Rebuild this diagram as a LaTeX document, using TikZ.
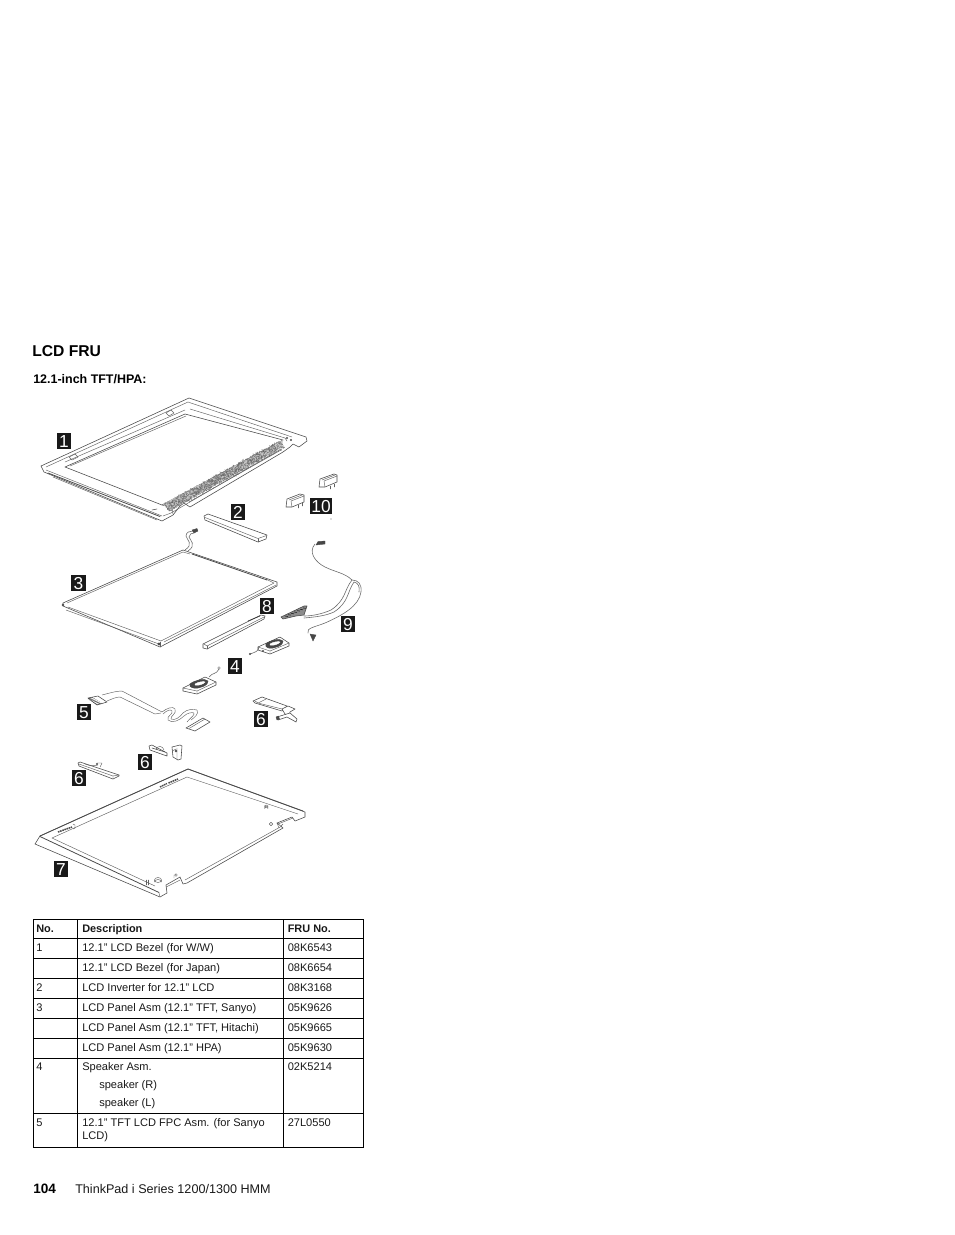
\documentclass[tikz,border=0pt]{standalone}
\usepackage{fontspec}
\setmainfont{Liberation Sans}
\tikzset{
  part/.style={draw=black!72,line width=0.42pt,line join=round,fill=white},
  ln/.style={draw=black!62,line width=0.34pt,line join=round,line cap=round},
  heavy/.style={draw=black!70,line width=0.6pt,line join=round,line cap=round},
  wire/.style={draw=black!58,line width=0.45pt,line cap=round},
  dark/.style={fill=black!72,draw=black!72,line width=0.25pt},
  chip/.style={draw=black!70,line width=1.15pt,dash pattern=on 1.2pt off 0.5pt},
  callout/.style={fill=black!90,text=white,font=\fontsize{13}{14}\selectfont,inner sep=0pt,minimum height=11.4pt,minimum width=11.2pt,text height=9.4pt,text depth=0pt,anchor=center},
  cell/.style={anchor=base west,inner sep=0pt,font=\fontsize{8.3}{9}\selectfont,text=black!90},
  hcell/.style={cell,font=\fontsize{8.2}{9}\selectfont\bfseries},
  rule/.style={draw=black,line width=0.75pt,line cap=rect}
}
\begin{document}
\begin{tikzpicture}[x=0.75pt,y=-0.75pt]
\useasboundingbox (0,0) rectangle (954,1235);
% headings
\node[anchor=base west,inner sep=0pt,font=\fontsize{11.75}{13}\selectfont\bfseries] (title) at (32,356) {LCD FRU};
\node[anchor=base west,inner sep=0pt,font=\fontsize{9.35}{10}\selectfont\bfseries] (sub) at (33,383) {12.1-inch TFT/HPA:};
% ---------- 1 bezel
\draw[part] (189,398) -- (306,437) -- (307,441) -- (299,447) -- (293,444) -- (290,447) -- (283,452) -- (190,507) -- (184,503) -- (180,506) -- (173,515) -- (162,521) -- (44,472) -- (41,466) -- cycle;
\draw[part] (185,414) -- (283,440) -- (162,505) -- (65,467) -- cycle;
\draw[ln] (188,402) -- (292,437) (190,409) -- (285,438) -- (287,441);
\draw[ln] (65,462) -- (185,410) (70,466) -- (186,416);
\draw[ln] (46,467) -- (188,402);
\draw[heavy] (48,473) -- (160,516.5);
\draw[ln] (46,470) -- (162,516) (53,477) -- (157,520);
\draw[ln] (163,516) -- (171,513) (189,502) -- (281,450) (173,514)--(172,508)--(162,505);
\draw[ln] (171,513) -- (281,449);
\draw[ln] (69,457) -- (75,454) -- (78,457) -- (72,460) -- cycle;
\draw[ln] (166,413) -- (171,410) -- (174,413) -- (169,416) -- cycle;
\fill[black!70] (287,438) circle (0.8pt) (291,440) circle (0.8pt);
\draw[heavy,line width=0.4pt] (152,510) -- (157,509);
% hatched band
\fill[black!22] (163,504) -- (283,440) -- (281,448) -- (170,511) -- cycle;
\pgfmathsetseed{7}
\foreach \i in {1,...,1500}{
  \pgfmathsetmacro{\t}{rnd}
  \pgfmathsetmacro{\s}{rnd}
  \pgfmathsetmacro{\px}{164+\t*116+\s*5}
  \pgfmathsetmacro{\py}{504-\t*64+\s*7.5}
  \pgfmathsetmacro{\dx}{(rnd-.5)*3}
  \pgfmathsetmacro{\dy}{(rnd-.5)*3}
  \draw[black!60,line width=0.22pt] (\px,\py) -- ++(\dx,\dy);
}
% ---------- 2 inverter
\draw[part] (204,516) -- (208,514) -- (267,535) -- (266,539) -- (258,542) -- (205,520) -- cycle;
\draw[ln] (205,517.5) -- (258,538.5) -- (266.5,535.5);
\draw[ln] (258,538.5) -- (258,542);
% ---------- 10 hinge covers
\draw[part] (287,499) -- (300,494) -- (304,495) -- (304,502) -- (292,507) -- (286,507) -- cycle;
\draw[ln] (289,500) -- (302,495) (292,507) -- (291,501) -- (304,496);
\draw[ln] (298,505) -- (298,508) (302,503) -- (302,506);
\draw[part] (320,479) -- (334,474) -- (337,475) -- (337,482) -- (325,487) -- (319,487) -- cycle;
\draw[ln] (322,480) -- (335,475) (325,487) -- (324,481) -- (337,476);
\draw[ln] (330,486) -- (330,489) (334,484) -- (334,487);
\fill[black!60] (331,519) circle (0.4pt);
% ---------- 3 panel
\draw[part] (183,550) -- (277,582) -- (277,586) -- (160,647) -- (63,606) -- (63,603) -- cycle;
\draw[ln] (67,603) -- (183,552) -- (190,554);
\draw[ln] (68,607) -- (161,641) -- (274,583) -- (266,579);
\draw[ln] (66,610) -- (159,644) (164,642) -- (276,585);
\draw[heavy] (192,554) -- (267,580);
\draw[ln] (160,642) -- (160,647);
\fill[black!70] (63,605) circle (1pt) (159,644) circle (1.2pt);
\draw[wire] (185,550) .. controls (194,544) and (187,540) .. (186,536) .. controls (186,532) and (190,531) .. (193,531);
\draw[wire] (188,551) .. controls (197,545) and (190,540) .. (189,537) .. controls (189,534) and (192,533) .. (194,533);
\draw[dark] (192,530) -- (197,528.5) -- (198,531) -- (194,533) -- cycle;
% ---------- 8 strip
\draw[part] (203,644) -- (261,615) -- (265,616) -- (264,619) -- (207,649) -- (203,648) -- cycle;
\draw[ln] (204,644) -- (207,646) -- (264,617);
\draw[ln] (207,646) -- (207,649);
\draw[draw=black!80,line width=0.5pt] (248,621) -- (260,616);
% ---------- 9 cable
\draw[wire] (315,544) .. controls (308,552) and (315,562) .. (325,567) .. controls (335,572) and (345,573) .. (352,580);
\draw[wire] (352,580) .. controls (344,590) and (346,600) .. (331,610) .. controls (322,614) and (312,616) .. (304,616);
\draw[wire] (354,582) .. controls (347,592) and (349,602) .. (334,612) .. controls (325,616) and (315,617) .. (304,618);
\draw[wire] (352,580) .. controls (358,580) and (362,584) .. (361,592) .. controls (359,606) and (343,615) .. (325,623) .. controls (315,627) and (306,628) .. (308,633);
\draw[wire] (354,582) .. controls (358,583) and (360,586) .. (359,592);
\draw[dark] (316,545) -- (318,541.5) -- (325,541) -- (325,544) -- cycle;
\draw[dark] (310,634) -- (316,635) -- (313,641) -- cycle;
\draw[part,fill=black!45] (281,617) -- (304,606) -- (307,606) -- (304,615) -- (296,616) -- (283,619) -- cycle;
\foreach \k in {0,...,6}{\draw[draw=black!85,line width=0.5pt] ({285+\k*3},{616-\k*1.35}) -- ({288+\k*3},{616.5-\k*1.35});}
% ---------- 4 speakers
\draw[part] (258,647) -- (280,637) -- (289,643) -- (289,646) -- (270,654) -- (258,650) -- cycle;
\draw[ln] (258,647) -- (270,651) -- (289,643) (270,651) -- (270,654);
\draw[part,fill=black!72] (266,644) .. controls (270,640) and (280,638) .. (283,641) .. controls (284,645) and (274,649) .. (269,648) .. controls (266,647) and (265,646) .. (266,644) -- cycle;
\draw[draw=white,line width=0.3pt,fill=white] (270,644) .. controls (273,642) and (279,641) .. (280,642) .. controls (279,644) and (273,646) .. (270,645) -- cycle;
\draw[wire] (259,647) .. controls (258,652) and (255,652) .. (250,654);
\fill[black!70] (250,654) circle (0.8pt) (263,651) circle (0.8pt);
\draw[part] (183,688) -- (205,677) -- (216,682) -- (216,685) -- (197,694) -- (183,691) -- cycle;
\draw[ln] (183,688) -- (197,691) -- (216,682) (197,691) -- (197,694);
\draw[part,fill=black!72] (190,684) .. controls (195,680) and (205,678) .. (208,681) .. controls (209,685) and (199,689) .. (194,688) .. controls (190,687) and (189,686) .. (190,684) -- cycle;
\draw[draw=white,line width=0.3pt,fill=white] (195,684) .. controls (198,682) and (204,681) .. (205,682) .. controls (204,684) and (198,686) .. (195,685) -- cycle;
\draw[wire] (209,677) .. controls (213,672) and (216,675) .. (219,669);
\draw[ln] (219,668) circle (1pt);
% ---------- 5 FPC
\draw[ln] (102,695) .. controls (110,693) and (116,691) .. (122,691) -- (162,712) .. controls (167,708) and (173,706) .. (175,709) .. controls (177,714) and (170,716) .. (171,719) .. controls (175,721) and (180,717) .. (183,713) .. controls (187,709) and (193,709) .. (197,710) .. controls (199,714) and (195,717) .. (191,720);
\draw[ln] (107,701) .. controls (112,699) and (116,697) .. (120,697) -- (155,714) -- (161,713);
\draw[ln] (163,714) .. controls (167,710) and (171,709) .. (172,711) .. controls (174,714) and (166,716) .. (168,720) .. controls (172,724) and (180,720) .. (184,716) .. controls (187,713) and (192,712) .. (194,713) .. controls (195,715) and (191,717) .. (187,722);
\draw[part] (88,698) -- (98,696) -- (107,702) -- (97,705) -- cycle;
\foreach \k in {0,...,5}{\draw[black!80,line width=0.35pt] ({88+\k*1.7},{699+\k*1.1}) -- ({93+\k*1.7},{697.5+\k*1.1});}
\draw[part] (186,728) -- (203,718) -- (210,722) -- (195,731) -- cycle;
\draw[ln] (189,728.5) -- (205,719);
% ---------- 6 right
\draw[part] (253,701) -- (262,697) -- (287,706) -- (282,711) -- (255,703) -- cycle;
\draw[ln] (255,701) -- (258,703) -- (266,699) (258,703) -- (282,709);
\draw[part] (282,709) -- (288,706) -- (295,709) -- (290,712) -- (289,716) -- (285,714) -- cycle;
\draw[part] (277,717) -- (290,713) -- (297,719) -- (296,722) -- (287,717) -- (278,720) -- cycle;
\draw[dark] (276,717) -- (278.5,716) -- (279.5,719) -- (277,720) -- cycle;
% ---------- 6 middle
\draw[part] (149,746) -- (152,745) -- (167,753) -- (167,756) -- (164,755) -- (150,750) -- cycle;
\draw[ln] (156,749) .. controls (158,745) and (163,746) .. (164,750);
\draw[heavy,line width=0.45pt] (152,748) -- (165,752);
\draw[part] (172,747) -- (180,745) -- (182,746) -- (181,759) -- (178,760) -- (173,757) -- cycle;
\draw[ln] (177,748) -- (177,760) (172,751) -- (176,749);
\fill[black!70] (176,751) circle (1pt);
% ---------- 6 left
\draw[part] (78,763) -- (80,762) -- (119,775) -- (119,776) -- (113,779) -- (79,766) -- cycle;
\draw[ln] (79,764) -- (113,776) -- (119,775) (113,776) -- (113,779);
\draw[ln] (85,764) .. controls (90,766) and (94,766) .. (98,765) (97,763) -- (102,763) -- (100,767);
\fill[black!70] (97,764) circle (0.8pt);
% ---------- 7 cover
\draw[part] (188,769) -- (305,812) -- (305,817) -- (295,821) -- (292,817) -- (277,823) -- (283,828) -- (187,883) -- (183,884) -- (180,877) -- (166,885) -- (167,893) -- (160,897) -- (35,844) -- (40,836) -- cycle;
\draw[heavy] (188,769) -- (40,836) (188,769) -- (303,811);
\draw[ln] (187,777) -- (298,814) (187,777) -- (52,838) (159,893) -- (160,897);
\draw[heavy] (40,836.5) -- (159,892.5);
\draw[ln] (52,838) -- (155,886);
\draw[ln] (185,880) -- (282,826);
\draw[ln] (166,887) -- (180,880) (278,824) -- (293,818);
% cover details
\draw[chip] (58,832) -- (72,827);
\draw[ln] (73,824) -- (75,825) -- (75,828) -- (73,829);
\draw[chip] (160,787) -- (167,783.5);
\draw[chip] (168.5,783) -- (178,779);
\draw[ln] (264.5,806) -- (264.5,808.5) arc (180:360:1.7) -- (267.9,806);
\draw[ln] (266.2,806) ellipse (1.7 and 1);
\draw[ln] (271,824) circle (1.3pt);
\draw[ln] (158,880) ellipse (3.5 and 2.5);
\draw[ln] (154.5,880) -- (154.5,882) arc (180:360:3.5 and 2.5) -- (161.5,880);
\draw[ln] (146,880) -- (146,885) (148,880) -- (148,885);
\draw[ln] (174,875) -- (174,878) (176,875) circle (1pt);
\draw[ln] (277,823) -- (279,828) (281,826) -- (283,824);
% ---------- callouts
\node[callout] (c1) at (64,441) {1};
\node[callout] (c2) at (238,512) {2};
\node[callout,minimum width=16pt] (c10) at (321,506) {10};
\node[callout] (c3) at (78.5,583) {3};
\node[callout] (c8) at (267,606) {8};
\node[callout] (c9) at (348,624) {9};
\node[callout] (c4) at (235,666) {4};
\node[callout] (c5) at (84,712) {5};
\node[callout] (c6a) at (261,719) {6};
\node[callout] (c6b) at (145,762) {6};
\node[callout] (c6c) at (79,778) {6};
\node[callout] (c7) at (61,869) {7};
% ---------- table
\draw[rule] (33,919.5) rectangle (363.5,1147.5);
\draw[rule] (77.5,919.5) -- (77.5,1147.5) (283.5,919.5) -- (283.5,1147.5);
\foreach \yy in {938,958,978,998,1018,1038,1058,1113}{\draw[rule] (33,\yy) -- (363.5,\yy);}
\node[hcell] (h1) at (36,932) {No.};
\node[hcell] (h2) at (82,932) {Description};
\node[hcell] (h3) at (287.5,932) {FRU No.};
\node[cell] (a1) at (36,951) {1};
\node[cell] (b1) at (82,951) {12.1” LCD Bezel (for W/W)};
\node[cell] (d1) at (287.5,951) {08K6543};
\node[cell] (b2) at (82,971) {12.1” LCD Bezel (for Japan)};
\node[cell] (d2) at (287.5,971) {08K6654};
\node[cell] (a3) at (36,991) {2};
\node[cell] (b3) at (82,991) {LCD Inverter for 12.1” LCD};
\node[cell] (d3) at (287.5,991) {08K3168};
\node[cell] (a4) at (36,1011) {3};
\node[cell] (b4) at (82,1011) {LCD Panel Asm (12.1” TFT, Sanyo)};
\node[cell] (d4) at (287.5,1011) {05K9626};
\node[cell] (b5) at (82,1031) {LCD Panel Asm (12.1” TFT, Hitachi)};
\node[cell] (d5) at (287.5,1031) {05K9665};
\node[cell] (b6) at (82,1051) {LCD Panel Asm (12.1” HPA)};
\node[cell] (d6) at (287.5,1051) {05K9630};
\node[cell] (a7) at (36,1070) {4};
\node[cell] (b7) at (82,1070) {Speaker Asm.};
\node[cell] (d7) at (287.5,1070) {02K5214};
\node[cell] (b8) at (99,1088) {speaker (R)};
\node[cell] (b9) at (99,1106) {speaker (L)};
\node[cell] (a10) at (36,1126) {5};
\node[cell] (b10) at (82,1126) {12.1” TFT LCD FPC Asm. (for Sanyo};
\node[cell] (d10) at (287.5,1126) {27L0550};
\node[cell] (b11) at (82,1139) {LCD)};
% footer
\node[anchor=base west,inner sep=0pt,font=\fontsize{10.2}{12}\selectfont\bfseries] (pg) at (33,1193) {104};
\node[anchor=base west,inner sep=0pt,font=\fontsize{9.45}{11}\selectfont,text=black!90] (ft) at (75,1193) {ThinkPad i Series 1200/1300 HMM};
\end{tikzpicture}
\end{document}
